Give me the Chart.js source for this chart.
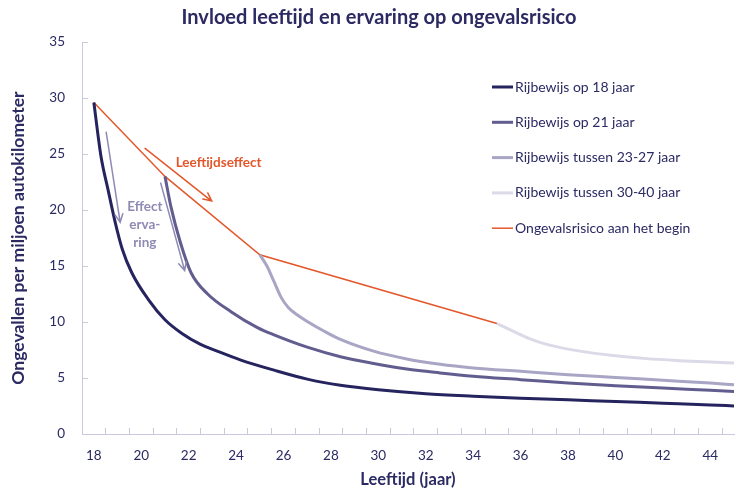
<!DOCTYPE html>
<html>
<head>
<meta charset="utf-8">
<script src="https://cdn.jsdelivr.net/npm/chart.js@4/dist/chart.umd.min.js"></script>
<style>
  html, body { margin: 0; padding: 0; background: #fff; }
  #wrap { width: 736px; height: 492px; }
</style>
</head>
<body>
<div id="wrap"><canvas id="riskChart" width="736" height="492"></canvas></div>
<script>
// ages on the x axis (one tick mark between every pair of years)
const tickYears = [18, 19, 20, 21, 22, 23, 24, 25, 26, 27, 28, 29, 30, 31, 32, 33, 34, 35, 36, 37, 38, 39, 40, 41, 42, 43, 44, 45];

// Rijbewijs op 18 jaar
const age18 = [18, 18.3, 18.6, 18.9, 19.2, 19.6, 20.3, 21, 21.7, 22.5, 23.2, 24.2, 25.6, 27, 28.4, 30, 32, 34, 36, 38, 40, 42, 44, 45];
const risk18 = [29.6, 24.8, 21.8, 18.9, 16.5, 14.4, 12.0, 10.2, 9.0, 8.0, 7.4, 6.6, 5.7, 4.9, 4.35, 3.95, 3.6, 3.38, 3.2, 3.05, 2.9, 2.75, 2.6, 2.5];

// Rijbewijs op 21 jaar
const age21 = [21, 21.25, 21.65, 22.1, 22.8, 23.8, 24.9, 25.6, 27, 28.4, 29.8, 31.2, 32.6, 34, 36, 38, 40, 42, 44, 45];
const risk21 = [23.0, 20.3, 17.1, 14.4, 12.5, 10.9, 9.5, 8.85, 7.75, 6.9, 6.3, 5.8, 5.45, 5.15, 4.85, 4.55, 4.3, 4.1, 3.9, 3.8];

// Rijbewijs tussen 23-27 jaar
const age25 = [25, 25.3, 25.6, 25.9, 26.2, 26.6, 27, 27.7, 28.4, 29.8, 31.2, 32.6, 34, 36, 38, 40, 42, 44, 45];
const risk25 = [16.0, 15.0, 13.6, 12.2, 11.3, 10.6, 10.05, 9.2, 8.45, 7.4, 6.7, 6.22, 5.9, 5.6, 5.3, 5.05, 4.8, 4.55, 4.4];

// Rijbewijs tussen 30-40 jaar
const age35 = [35, 35.7, 36.4, 37.1, 38.5, 39.9, 41.3, 42.7, 44, 45];
const risk35 = [9.86, 9.17, 8.5, 8.0, 7.4, 7.0, 6.73, 6.55, 6.42, 6.35];

// Ongevalsrisico aan het begin
const startAge = [18, 21, 25, 35];
const startRisk = [29.6, 23.0, 16.0, 9.86];

// annotation arrows, [age, risk] of tail and head
const arrowAge = [[20.16, 25.5], [22.97, 20.8]];
const arrowsExperience = [
  [[18.52, 26.95], [19.11, 18.9]],
  [[20.82, 22.4], [21.83, 14.6]]
];

const navy = '#25245e';
const textNavy = '#2b2a63';
const orange = '#e4572b';
const lavender = '#8e8ab3';
const axisColor = '#cbc9de';
const fontFamily = 'Lato, "Open Sans", sans-serif';

const toPoints = (xs, ys) => xs.map((v, i) => ({ x: v, y: ys[i] }));

function series(label, xs, ys, color, width) {
  return {
    label,
    data: toPoints(xs, ys),
    borderColor: color,
    backgroundColor: color,
    borderWidth: width,
    pointRadius: 0,
    cubicInterpolationMode: 'monotone',
    fill: false
  };
}

function drawArrow(ctx, from, to, color) {
  const ang = Math.atan2(to[1] - from[1], to[0] - from[0]);
  const head = 9;
  ctx.save();
  ctx.strokeStyle = color;
  ctx.lineWidth = 1.5;
  ctx.lineCap = 'round';
  ctx.beginPath();
  ctx.moveTo(from[0], from[1]);
  ctx.lineTo(to[0], to[1]);
  ctx.moveTo(to[0] - head * Math.cos(ang - 0.45), to[1] - head * Math.sin(ang - 0.45));
  ctx.lineTo(to[0], to[1]);
  ctx.lineTo(to[0] - head * Math.cos(ang + 0.45), to[1] - head * Math.sin(ang + 0.45));
  ctx.stroke();
  ctx.restore();
}

const notesPlugin = {
  id: 'notes',
  afterDatasetsDraw(chart) {
    const { ctx, scales: { x, y } } = chart;
    const px = p => [x.getPixelForValue(p[0]), y.getPixelForValue(p[1])];

    drawArrow(ctx, px(arrowAge[0]), px(arrowAge[1]), orange);
    arrowsExperience.forEach(a => drawArrow(ctx, px(a[0]), px(a[1]), lavender));

    ctx.save();
    ctx.font = 'bold 13.5px ' + fontFamily;
    ctx.textBaseline = 'middle';
    ctx.fillStyle = orange;
    ctx.textAlign = 'left';
    const lbl = px([21.45, 24.2]);
    ctx.fillText('Leeftijdseffect', lbl[0], lbl[1]);

    ctx.fillStyle = lavender;
    ctx.textAlign = 'center';
    const ex = px([20.15, 20.3]);
    ['Effect', 'erva-', 'ring'].forEach((t, i) => ctx.fillText(t, ex[0], ex[1] + i * 18));
    ctx.restore();
  },
  afterDraw(chart) {
    const { ctx } = chart;
    ctx.save();
    // title
    ctx.font = 'bold 20px ' + fontFamily;
    ctx.fillStyle = textNavy;
    ctx.textAlign = 'center';
    ctx.textBaseline = 'middle';
    ctx.fillText('Invloed leeftijd en ervaring op ongevalsrisico', 379, 18);

    // legend
    ctx.font = '14px ' + fontFamily;
    ctx.textAlign = 'left';
    chart.data.datasets.forEach((ds, i) => {
      const ly = 87 + i * 35.3;
      ctx.strokeStyle = ds.borderColor;
      ctx.lineWidth = ds.borderWidth;
      ctx.beginPath();
      ctx.moveTo(492, ly);
      ctx.lineTo(513, ly);
      ctx.stroke();
      ctx.fillStyle = textNavy;
      ctx.fillText(ds.label, 515, ly);
    });
    ctx.restore();
  }
};

const ctx = document.getElementById('riskChart').getContext('2d');

new Chart(ctx, {
  type: 'line',
  data: {
    datasets: [
      series('Rijbewijs op 18 jaar', age18, risk18, navy, 3),
      series('Rijbewijs op 21 jaar', age21, risk21, '#625d8f', 3),
      series('Rijbewijs tussen 23-27 jaar', age25, risk25, '#a8a5c5', 3),
      series('Rijbewijs tussen 30-40 jaar', age35, risk35, '#dbdae8', 3),
      {
        label: 'Ongevalsrisico aan het begin',
        data: toPoints(startAge, startRisk),
        borderColor: orange,
        backgroundColor: orange,
        borderWidth: 1.5,
        pointRadius: 0,
        tension: 0,
        fill: false
      }
    ]
  },
  options: {
    responsive: false,
    animation: false,
    layout: { padding: { top: 42, right: 2, bottom: 0, left: 0 } },
    plugins: {
      legend: { display: false },
      title: { display: false },
      tooltip: { enabled: false }
    },
    scales: {
      x: {
        type: 'linear',
        min: 17.5,
        max: 45,
        afterBuildTicks: scale => { scale.ticks = tickYears.map(v => ({ value: v })); },
        afterFit: scale => {
          scale.height = 58;
          scale.paddingRight = 0;
        },
        ticks: {
          autoSkip: false,
          maxRotation: 0,
          padding: 20,
          color: textNavy,
          font: { family: fontFamily, size: 13.5 },
          callback: v => (v % 2 === 0 ? String(v) : '')
        },
        grid: { offset: true, drawOnChartArea: false, drawTicks: true, tickLength: -6, color: axisColor },
        border: { display: true, color: axisColor, width: 1 },
        title: {
          display: true,
          text: 'Leeftijd (jaar)',
          color: textNavy,
          font: { family: fontFamily, size: 16.5, weight: 'bold' },
          padding: { top: 0, bottom: 2 }
        }
      },
      y: {
        min: 0,
        max: 35,
        afterFit: scale => { scale.width = 82; },
        ticks: {
          stepSize: 5,
          padding: 23,
          color: textNavy,
          font: { family: fontFamily, size: 13.5 }
        },
        grid: { drawOnChartArea: false, drawTicks: true, tickLength: -6, color: axisColor },
        border: { display: true, color: axisColor, width: 1 },
        title: {
          display: true,
          text: 'Ongevallen per miljoen autokilometer',
          color: textNavy,
          font: { family: fontFamily, size: 17.5, weight: 'bold' },
          padding: { top: 8, bottom: 0 }
        }
      }
    }
  },
  plugins: [notesPlugin]
});
</script>
</body>
</html>
